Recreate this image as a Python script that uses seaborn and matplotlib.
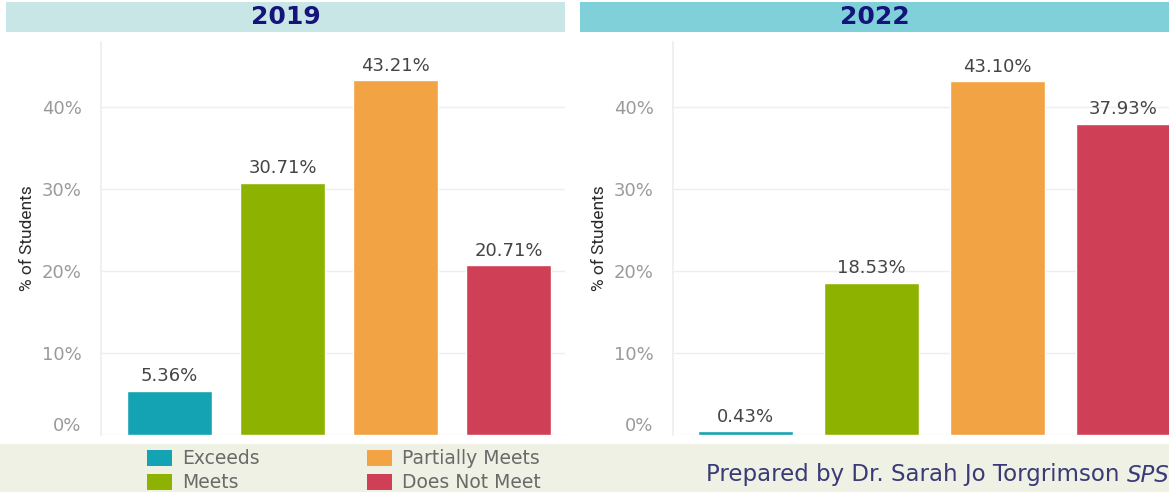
import numpy as np
import pandas as pd
import matplotlib
matplotlib.use('Agg')
import matplotlib.pyplot as plt
from matplotlib.patches import Rectangle
from matplotlib.text import Annotation
import seaborn as sns

# Данные
categories = ['Exceeds', 'Meets', 'Partially Meets', 'Does Not Meet']
values_2019 = [5.36, 30.71, 43.21, 20.71]
values_2022 = [0.43, 18.53, 43.10, 37.93]
years = ['2019', '2022']
bar_colors = ['#14a3b3', '#8db300', '#f2a444', '#cf3f55']
y_ticks = [0, 10, 20, 30, 40]

sns.set_theme(style='white')
plt.rcParams['font.family'] = ['DejaVu Sans']

W, H = 1169, 492
fig = plt.figure(figsize=(W / 100, H / 100), dpi=100)

# Нижняя полоса (легенда / подпись)
fig.add_artist(Rectangle((0, 0), 1, (H - 444) / H, transform=fig.transFigure,
                         facecolor='#eef1e3', edgecolor='none', zorder=0))

# Полосы заголовков
strip_boxes = [(6, 559, '#c8e6e6'), (580, 600, '#7fd0d8')]
for (x0, w, col), year in zip(strip_boxes, years):
    fig.add_artist(Rectangle((x0 / W, 1 - 32 / H), w / W, 30 / H, transform=fig.transFigure,
                             facecolor=col, edgecolor='none', zorder=0))
    xc = (x0 + min(w, W - x0) / 2) / W
    fig.text(xc, 1 - 17 / H, year, ha='center', va='center', fontsize=18,
             fontweight='bold', color='#14147a')

# Оси: [left, bottom, width, height] в пикселях + положение подписи оси Y
axes_px = [(101, 435, 464, 393, (-0.606, 3.5), 35), (673, 435, 526, 393, (-0.575, 3.6), 607)]
for (x0, y0, w, h, xl, lab_x), vals in zip(axes_px, [values_2019, values_2022]):
    ax = fig.add_axes([x0 / W, (H - y0) / H, w / W, h / H])
    df = pd.DataFrame({'cat': categories, 'val': vals})
    sns.barplot(data=df, x='cat', y='val', hue='cat', palette=bar_colors,
                legend=False, width=0.75, saturation=1, ax=ax, zorder=2)
    for c in ax.containers:
        ax.bar_label(c, fmt='%.2f%%', padding=4, fontsize=13, color='#444444')
    ax.set_xlim(*xl)
    ax.set_ylim(0, 47.9)
    ax.set_yticks(y_ticks)
    ax.set_yticklabels([f'{t}%' for t in y_ticks])
    ax.set_xticks([])
    ax.set_xlabel('')
    ax.set_ylabel('% of Students', family=['Roboto', 'DejaVu Sans'],
                  fontsize=12.5, color='#2a2a2a')
    ax.yaxis.set_label_coords((lab_x - x0) / w, 0.5)
    ax.tick_params(axis='y', labelsize=13, labelcolor='#9a9a9a', length=0, pad=14)
    ax.yaxis.grid(True, color='#eeeeee', linewidth=1, zorder=0)
    ax.set_axisbelow(True)
    for s in ['top', 'right', 'bottom']:
        ax.spines[s].set_visible(False)
    ax.spines['left'].set_color('#eeeeee')
    ax.get_yticklabels()[0].set_va('bottom')

# Легенда
legend_pos = [(147, 450), (147, 474), (367, 450), (367, 474)]
for (lx, ly), i in zip(legend_pos, range(len(categories))):
    fig.add_artist(Rectangle((lx / W, 1 - (ly + 16) / H), 25 / W, 16 / H,
                             transform=fig.transFigure, facecolor=bar_colors[i],
                             edgecolor='none'))
    fig.text((lx + 35) / W, 1 - (ly + 9) / H, categories[i], ha='left', va='center',
             fontsize=13.5, color='#6a6a6a')

# Подпись автора
t1 = fig.text(706 / W, 1 - 475 / H, 'Prepared by Dr. Sarah Jo Torgrimson ', ha='left',
              va='center', fontsize=16.5, color='#3a3a78')
fig.add_artist(Annotation('SPS', xy=(1, 0), xycoords=t1, ha='left', va='bottom',
                          fontsize=16.5, color='#3a3a78', style='italic'))

plt.savefig('out.png', dpi=100)
